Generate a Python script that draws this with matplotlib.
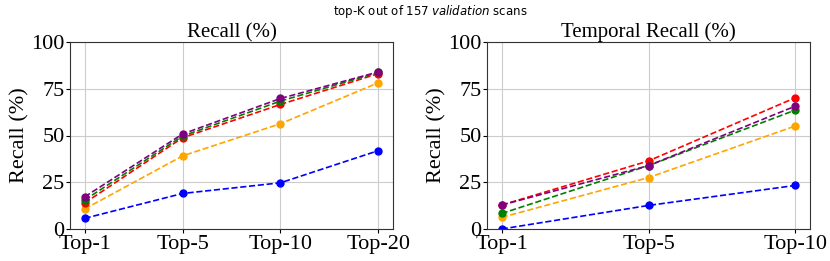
import matplotlib
matplotlib.use("Agg")
import matplotlib.pyplot as plt

cats_left = ["Top-1", "Top-5", "Top-10", "Top-20"]
cats_right = ["Top-1", "Top-5", "Top-10"]

recall_blue = [5.7, 19.0, 24.7, 41.9]
recall_orange = [10.7, 39.1, 56.3, 78.2]
recall_red = [13.9, 48.8, 66.6, 83.1]
recall_green = [15.5, 49.7, 68.4, 83.7]
recall_purple = [17.2, 50.8, 69.8, 84.0]

temp_blue = [0.0, 12.6, 23.3]
temp_orange = [6.2, 27.5, 55.1]
temp_red = [12.8, 36.4, 70.2]
temp_green = [8.3, 33.9, 63.6]
temp_purple = [12.8, 33.9, 65.7]

colors = ["blue", "orange", "red", "green", "purple"]

fig = plt.figure(figsize=(8.3, 2.61), dpi=100)
ax1 = fig.add_axes([70/830, 1-229/261, 323/830, 187/261])
ax2 = fig.add_axes([487/830, 1-229/261, 323/830, 187/261])

serif = "Liberation Serif"

def draw(ax, cats, series, title):
    x = list(range(len(cats)))
    for vals, c in zip(series, colors):
        ax.plot(x, vals, linestyle="--", marker="o", color=c, markersize=5, linewidth=1.2)
    ax.set_ylim(0, 100)
    ax.set_yticks([0, 25, 50, 75, 100])
    ax.set_xticks(x)
    ax.set_xticklabels(cats, fontfamily=serif, fontsize=16)
    for lab in ax.get_yticklabels():
        lab.set_fontfamily(serif)
        lab.set_fontsize(16)
    ax.tick_params(axis="both", length=3, pad=1)
    ax.grid(True, color="#cccccc", linewidth=0.8)
    ax.set_axisbelow(True)
    ax.set_title(title, fontfamily=serif, fontsize=15, pad=2)
    ax.set_ylabel("Recall (%)", fontfamily=serif, fontsize=16, labelpad=1)
    for s in ax.spines.values():
        s.set_color("#333333")

draw(ax1, cats_left, [recall_blue, recall_orange, recall_red, recall_green, recall_purple], "Recall (%)")
draw(ax2, cats_right, [temp_blue, temp_orange, temp_red, temp_green, temp_purple], "Temporal Recall (%)")

fig.text(0.518, 0.99, r"top-K out of 157 $\it{validation}$ scans", ha="center", va="top", fontsize=8.5)

fig.savefig("out.png", dpi=100)
